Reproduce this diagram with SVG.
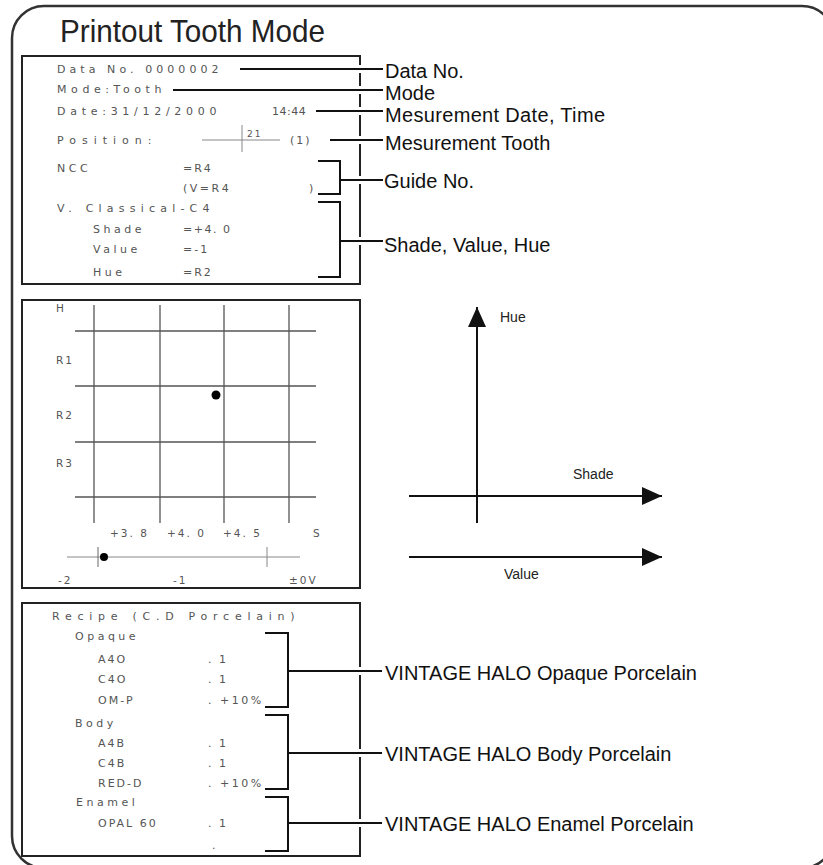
<svg xmlns="http://www.w3.org/2000/svg" width="823" height="865" viewBox="0 0 823 865">
<style>
.frame{fill:none;stroke:#333;stroke-width:2.5}
.box{fill:#fff;stroke:#222;stroke-width:2}
.dm{font-family:"DejaVu Sans",sans-serif;font-size:11px;fill:#555;letter-spacing:3.5px}
.dms{font-family:"DejaVu Sans",sans-serif;font-size:10.5px;fill:#555;letter-spacing:2px}
.lbl{font-family:"Liberation Sans",Arial,sans-serif;font-size:20px;fill:#111}
.ax{font-family:"Liberation Sans",Arial,sans-serif;font-size:14px;fill:#222}
.ld{fill:none;stroke:#111;stroke-width:2}
.grid{stroke:#555;stroke-width:1.3}
.axl{stroke:#111;stroke-width:2}
.gap{fill:#fff}
</style>
<defs>
<marker id="arr" viewBox="0 0 20 18" refX="20" refY="9" markerWidth="20" markerHeight="18" markerUnits="userSpaceOnUse" orient="auto">
<path d="M0,0 L20,9 L0,18 Z" fill="#111"/>
</marker>
</defs>
<rect id="frame" class="frame" x="12" y="6" width="822" height="862" rx="32"/>
<text id="title" x="60" y="42" font-family="Liberation Sans,Arial,sans-serif" font-size="32" fill="#222" textLength="265" lengthAdjust="spacingAndGlyphs">Printout Tooth Mode</text>

<g id="printout-data">
<rect class="box" x="22" y="56" width="338" height="228"/>
<text class="dm" x="57" y="73" textLength="165">Data No. 0000002</text>
<text class="dm" x="57" y="93" textLength="108">Mode:Tooth</text>
<text class="dm" x="57" y="115" textLength="163">Date:31/12/2000</text>
<text class="dm" x="272" y="115" style="letter-spacing:0.5px">14:44</text>
<text class="dm" x="57" y="144" textLength="98">Position:</text>
<line x1="202" y1="140" x2="280" y2="140" stroke="#888" stroke-width="1"/>
<line x1="242" y1="125" x2="242" y2="152" stroke="#888" stroke-width="1"/>
<text class="dms" x="247" y="137" style="font-size:9px">21</text>
<text class="dm" x="290" y="144" style="letter-spacing:2px">(1)</text>
<text class="dm" x="57" y="172">NCC</text>
<text class="dm" x="183" y="172" style="letter-spacing:2px">=R4</text>
<text class="dm" x="183" y="192" style="letter-spacing:2.5px">(V=R4</text>
<text class="dm" x="309" y="192">)</text>
<text class="dm" x="57" y="212" textLength="156">V. Classical-C4</text>
<text class="dm" x="93" y="233">Shade</text>
<text class="dm" x="183" y="233" style="letter-spacing:1.5px">=+4. 0</text>
<text class="dm" x="93" y="253">Value</text>
<text class="dm" x="183" y="253" style="letter-spacing:2px">=-1</text>
<text class="dm" x="93" y="276">Hue</text>
<text class="dm" x="183" y="276" style="letter-spacing:2px">=R2</text>
</g>

<g id="graph">
<rect class="box" x="22" y="300" width="338" height="288"/>
<line class="grid" x1="94" y1="305" x2="94" y2="523"/>
<line class="grid" x1="160" y1="305" x2="160" y2="523"/>
<line class="grid" x1="224" y1="305" x2="224" y2="523"/>
<line class="grid" x1="289" y1="305" x2="289" y2="523"/>
<line class="grid" x1="75" y1="331" x2="316" y2="331"/>
<line class="grid" x1="75" y1="386" x2="316" y2="386"/>
<line class="grid" x1="75" y1="442" x2="316" y2="442"/>
<line class="grid" x1="75" y1="497" x2="316" y2="497"/>
<circle cx="216" cy="395" r="4.5" fill="#000"/>
<text class="dms" x="56" y="312">H</text>
<text class="dms" x="56" y="364">R1</text>
<text class="dms" x="56" y="419">R2</text>
<text class="dms" x="56" y="467">R3</text>
<text class="dms" x="110" y="537">+3. 8</text>
<text class="dms" x="167" y="537">+4. 0</text>
<text class="dms" x="223" y="537">+4. 5</text>
<text class="dms" x="313" y="537">S</text>
<line x1="67" y1="557" x2="300" y2="557" stroke="#888" stroke-width="1"/>
<line x1="98" y1="547" x2="98" y2="567" stroke="#666" stroke-width="1"/>
<line x1="267" y1="547" x2="267" y2="567" stroke="#888" stroke-width="1"/>
<circle cx="104" cy="557" r="4" fill="#000"/>
<text class="dms" x="58" y="584">-2</text>
<text class="dms" x="173" y="584">-1</text>
<text class="dms" x="289" y="584">±0V</text>
</g>

<g id="axes">
<line class="axl" x1="477" y1="523" x2="477" y2="307" marker-end="url(#arr)"/>
<line class="axl" x1="409" y1="496" x2="662" y2="496" marker-end="url(#arr)"/>
<line class="axl" x1="409" y1="557" x2="662" y2="557" marker-end="url(#arr)"/>
<text class="ax" x="500" y="322">Hue</text>
<text class="ax" x="573" y="479">Shade</text>
<text class="ax" x="504" y="579">Value</text>
</g>

<g id="recipe">
<rect class="box" x="22" y="603" width="338" height="253"/>
<text class="dm" x="52" y="620" textLength="246">Recipe (C.D Porcelain)</text>
<text class="dm" x="75" y="640">Opaque</text>
<text class="dm" x="98" y="663" style="letter-spacing:2px">A4O</text>
<text class="dm" x="208" y="663" style="letter-spacing:2px">. 1</text>
<text class="dm" x="98" y="683" style="letter-spacing:2px">C4O</text>
<text class="dm" x="208" y="683" style="letter-spacing:2px">. 1</text>
<text class="dm" x="98" y="704" style="letter-spacing:2px">OM-P</text>
<text class="dm" x="208" y="704" style="letter-spacing:2.5px">. +10%</text>
<text class="dm" x="75" y="727">Body</text>
<text class="dm" x="98" y="747" style="letter-spacing:2px">A4B</text>
<text class="dm" x="208" y="747" style="letter-spacing:2px">. 1</text>
<text class="dm" x="98" y="767" style="letter-spacing:2px">C4B</text>
<text class="dm" x="208" y="767" style="letter-spacing:2px">. 1</text>
<text class="dm" x="98" y="787" style="letter-spacing:2px">RED-D</text>
<text class="dm" x="208" y="787" style="letter-spacing:2.5px">. +10%</text>
<text class="dm" x="76" y="806">Enamel</text>
<text class="dm" x="98" y="827" style="letter-spacing:2px">OPAL 60</text>
<text class="dm" x="208" y="827" style="letter-spacing:2px">. 1</text>
<text class="dm" x="212" y="849">.</text>
</g>

<g id="connectors">
<rect class="gap" x="356" y="65" width="8" height="8"/>
<rect class="gap" x="356" y="86" width="8" height="8"/>
<rect class="gap" x="356" y="107" width="8" height="8"/>
<rect class="gap" x="356" y="136" width="8" height="8"/>
<rect class="gap" x="356" y="176" width="8" height="8"/>
<rect class="gap" x="356" y="237" width="8" height="8"/>
<rect class="gap" x="356" y="667" width="8" height="8"/>
<rect class="gap" x="356" y="749" width="8" height="8"/>
<rect class="gap" x="356" y="819" width="8" height="8"/>
<line class="ld" x1="240" y1="69" x2="383" y2="69"/>
<line class="ld" x1="173" y1="90" x2="383" y2="90"/>
<line class="ld" x1="316" y1="111" x2="383" y2="111"/>
<line class="ld" x1="330" y1="140" x2="383" y2="140"/>
<path class="ld" d="M318,161 H340 V194 H318 M340,180 H383"/>
<path class="ld" d="M318,202 H340 V277 H318 M340,241 H383"/>
<path class="ld" d="M265,633 H288 V707 H265 M288,671 H382"/>
<path class="ld" d="M265,715 H288 V789 H265 M288,753 H382"/>
<path class="ld" d="M265,797 H288 V851 H265 M288,823 H382"/>
</g>

<g id="labels">
<text class="lbl" x="385" y="78">Data No.</text>
<text class="lbl" x="385" y="100">Mode</text>
<text class="lbl" x="385" y="122" textLength="220">Mesurement Date, Time</text>
<text class="lbl" x="385" y="150">Mesurement Tooth</text>
<text class="lbl" x="384" y="188">Guide No.</text>
<text class="lbl" x="384" y="252">Shade, Value, Hue</text>
<text class="lbl" x="385" y="680">VINTAGE HALO Opaque Porcelain</text>
<text class="lbl" x="385" y="761">VINTAGE HALO Body Porcelain</text>
<text class="lbl" x="385" y="831">VINTAGE HALO Enamel Porcelain</text>
</g>
</svg>
